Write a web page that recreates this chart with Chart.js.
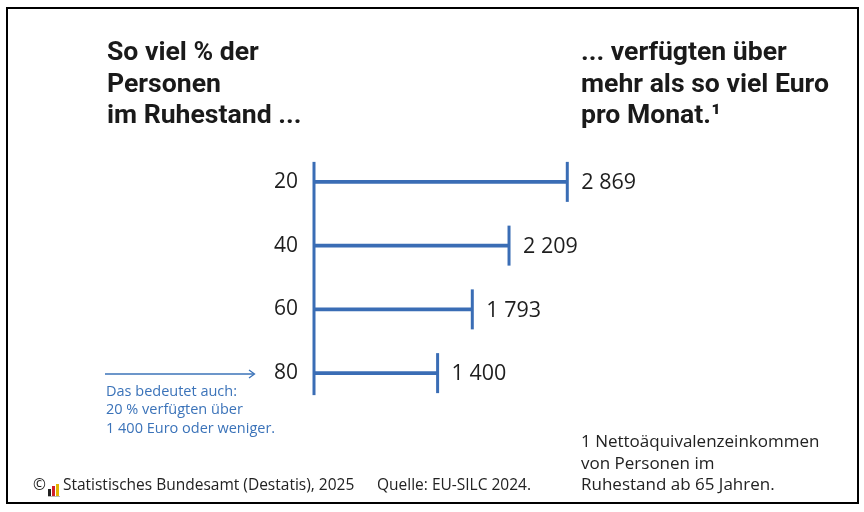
<!DOCTYPE html>
<html lang="de">
<head>
<meta charset="utf-8">
<script src="https://cdn.jsdelivr.net/npm/chart.js@4"></script>
<style>
  html, body { margin: 0; padding: 0; background: #fff; }
  #wrap { position: relative; width: 864px; height: 512px; overflow: hidden; font-family: 'Open Sans', 'Noto Sans', sans-serif; color: #1e1e1e; }
  #frame { position: absolute; left: 6px; top: 7px; width: 849px; height: 493px; border: 2px solid #000; }
  canvas { position: absolute; left: 0; top: 0; }
  .title { position: absolute; top: 35px; font-family: 'Roboto', sans-serif; font-weight: bold; font-size: 26.6px; line-height: 31.7px; color: #1a1a1a; }
  .note { position: absolute; left: 106px; top: 382px; font-size: 14.5px; line-height: 18.3px; color: #3b73b9; }
  .arrow { position: absolute; left: 105px; top: 368px; }
  .foot { position: absolute; left: 581px; top: 430px; font-size: 17px; line-height: 21.7px; color: #222; }
  .src { position: absolute; top: 473px; font-size: 15.5px; color: #222; white-space: nowrap; }
  .logo { display: inline-block; vertical-align: -1px; margin: 0 3px 0 2px; border-bottom: 1px solid #bbb; }
  .logo i { display: inline-block; width: 3px; margin-right: 1px; vertical-align: bottom; }
</style>
</head>
<body>
<div id="wrap">
  <div id="frame"></div>
  <canvas id="chart" width="864" height="512"></canvas>
  <div class="title" style="left:107px">So viel % der<br>Personen<br>im Ruhestand ...</div>
  <div class="title" style="left:581px">... verfügten über<br>mehr als so viel Euro<br>pro Monat.¹</div>
  <svg class="arrow" width="152" height="12"><line x1="0" y1="6" x2="149" y2="6" stroke="#3b73b9" stroke-width="1.3"/><polyline points="144,2 149.5,6 144,10" fill="none" stroke="#3b73b9" stroke-width="1.3"/></svg>
  <div class="note">Das bedeutet auch:<br>20 % verfügten über<br>1 400 Euro oder weniger.</div>
  <div class="foot">1 Nettoäquivalenzeinkommen<br>von Personen im<br>Ruhestand ab 65 Jahren.</div>
  <div class="src" style="left:33px">©<span class="logo"><i style="height:7px;background:#222"></i><i style="height:10px;background:#d0202a"></i><i style="height:12px;background:#e3b400"></i></span>Statistisches Bundesamt (Destatis), 2025</div>
  <div class="src" style="left:377px">Quelle: EU-SILC 2024.</div>
</div>
<script>
// Anteil der Personen im Ruhestand (%) und Einkommensgrenze (Euro pro Monat)
const shares = ['20', '40', '60', '80'];
const euros = [2869, 2209, 1793, 1400];

const blue = '#3a6db5';

function formatEuro(v) {
    return v.toString().replace(/\B(?=(\d{3})+(?!\d))/g, ' ');
}

// Endstriche, Achse und Werte zeichnen
const capsPlugin = {
    id: 'caps',
    afterDatasetsDraw(chart) {
        const ctx = chart.ctx;
        const meta = chart.getDatasetMeta(0);
        const x0 = chart.scales.x.getPixelForValue(0);
        const first = meta.data[0];
        const last = meta.data[meta.data.length - 1];
        ctx.save();
        ctx.strokeStyle = blue;
        ctx.lineWidth = 3;
        ctx.beginPath();
        ctx.moveTo(x0, first.y - 20);
        ctx.lineTo(x0, last.y + 22);
        ctx.stroke();
        ctx.font = '21.5px "Open Sans", "Noto Sans", sans-serif';
        ctx.fillStyle = '#1e1e1e';
        ctx.textBaseline = 'middle';
        meta.data.forEach((bar, i) => {
            ctx.beginPath();
            ctx.moveTo(bar.x, bar.y - 20);
            ctx.lineTo(bar.x, bar.y + 20);
            ctx.stroke();
            ctx.fillText(formatEuro(euros[i]), bar.x + 14, bar.y + 1);
        });
        ctx.restore();
    }
};

new Chart(document.getElementById('chart'), {
    type: 'bar',
    data: {
        labels: shares,
        datasets: [{
            data: euros,
            backgroundColor: blue,
            barThickness: 3
        }]
    },
    options: {
        indexAxis: 'y',
        responsive: false,
        animation: false,
        layout: { padding: { left: 274, right: 241, top: 150, bottom: 107 } },
        plugins: {
            legend: { display: false },
            tooltip: { enabled: false }
        },
        scales: {
            x: { display: false, min: 0, max: 3500 },
            y: {
                grid: { display: false, drawTicks: false },
                border: { display: false },
                afterFit(scale) { scale.width = 40; },
                ticks: {
                    padding: 16,
                    color: '#1e1e1e',
                    font: { family: '"Open Sans", "Noto Sans", sans-serif', size: 21 }
                }
            }
        }
    },
    plugins: [capsPlugin]
});
</script>
</body>
</html>
